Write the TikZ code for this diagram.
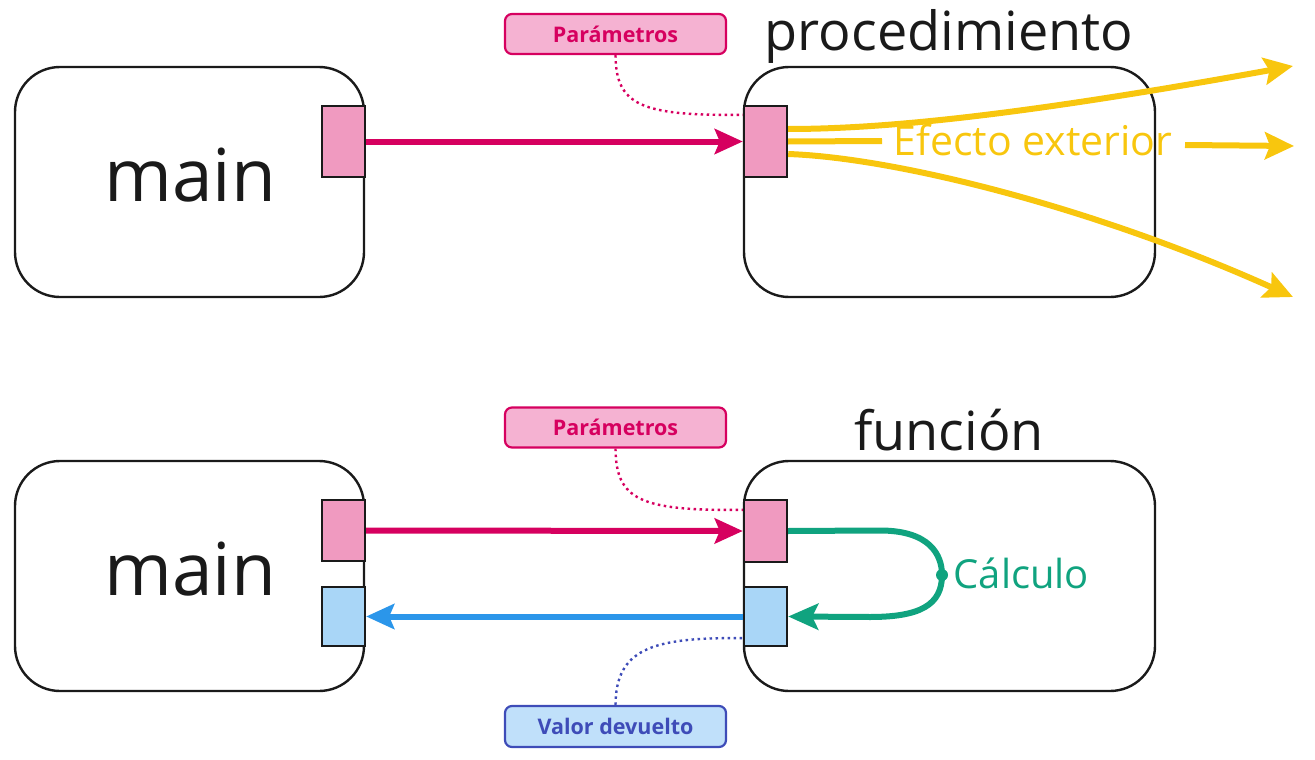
\documentclass[tikz,border=0pt]{standalone}
\usepackage{fontspec}
\setmainfont{Open Sans}
\usetikzlibrary{arrows.meta}
\definecolor{pinkarr}{HTML}{D6005F}
\definecolor{pinkport}{HTML}{F09AC0}
\definecolor{pinklab}{HTML}{F5B2D2}
\definecolor{yel}{HTML}{F8C60E}
\definecolor{bluearr}{HTML}{2B96EA}
\definecolor{blueport}{HTML}{A9D6F7}
\definecolor{bluelab}{HTML}{C0E0FA}
\definecolor{bluetxt}{HTML}{3E4CB8}
\definecolor{teal}{HTML}{10A37F}
\definecolor{ink}{HTML}{1A1A1A}
\tikzset{
  bigbox/.style={draw=ink, line width=2.4pt, rounded corners=45pt, minimum width=349pt, minimum height=230pt, inner sep=0pt},
  port/.style={draw=ink, line width=2.4pt, minimum width=43pt, inner sep=0pt},
  pinkport/.style={port, fill=pinkport},
  blueport/.style={port, fill=blueport},
  title/.style={font=\fontsize{54}{60}\selectfont, text=ink},
  mainlbl/.style={font=\fontsize{73}{80}\selectfont, text=ink},
  plab/.style={draw=pinkarr, fill=pinklab, text=pinkarr, line width=2.2pt, rounded corners=7pt, minimum width=221pt, minimum height=40pt, inner sep=0pt, font=\bfseries\fontsize{21.5}{24}\selectfont},
  blab/.style={draw=bluetxt, fill=bluelab, text=bluetxt, line width=2.2pt, rounded corners=7pt, minimum width=221pt, minimum height=41pt, inner sep=0pt, font=\bfseries\fontsize{21.5}{24}\selectfont},
  parr/.style={draw=pinkarr, line width=6pt, -{Stealth[length=28pt,width=25pt,inset=5pt]}},
  barr/.style={draw=bluearr, line width=6pt, -{Stealth[length=28pt,width=25pt,inset=5pt]}},
  yarr/.style={draw=yel, line width=6pt, -{Stealth[length=29pt,width=27pt,inset=5pt]}},
  yline/.style={draw=yel, line width=6pt},
  tarr/.style={draw=teal, line width=6pt, -{Stealth[length=30pt,width=26pt,inset=6pt]}},
  pdot/.style={draw=pinkarr, line width=2.4pt, dash pattern=on 2.5pt off 3.5pt},
  bdot/.style={draw=bluetxt, line width=2.4pt, dash pattern=on 2.5pt off 3.5pt},
}
\begin{document}
\begin{tikzpicture}[x=1pt,y=-1pt]
\useasboundingbox (0,0) rectangle (1315,760);
% ---------- top: procedimiento ----------
\node[bigbox] (m1) at (189.5,182) {};
\node[mainlbl] (mt1) at (190,175) {main};
\node[bigbox, minimum width=411pt] (p1) at (949.5,182) {};
\node[title] (t1) at (949,36) {procedimiento};
\node[pinkport, minimum height=71pt] (mp1) at (343.5,141.5) {};
\node[pinkport, minimum height=71pt] (pp1) at (765.5,141.5) {};
\node[plab] (l1) at (615.5,34) {Parámetros};
\draw[parr] (mp1.east) -- (pp1.west);
\draw[pdot] (l1.south) .. controls (616,105) and (640,116) .. ([yshift=-10pt]pp1.north west);
\coordinate (e1) at (1293,66);
\coordinate (e2a) at (882,141);
\coordinate (e2b) at (1185,145);
\coordinate (e2) at (1294,146);
\coordinate (e3) at (1293,297);
\draw[yarr] ([yshift=12.5pt]pp1.east) .. controls (900,129) and (1050,110) .. (e1);
\draw[yline] (pp1.east) -- (e2a);
\draw[yarr] (e2b) -- (e2);
\draw[yarr] ([yshift=-12.5pt]pp1.east) .. controls (900,158) and (1100,210) .. (e3);
\node[text=yel, font=\fontsize{41}{48}\selectfont] (ef) at (1033,140) {Efecto exterior};
% ---------- bottom: funcion ----------
\node[bigbox] (m2) at (189.5,576) {};
\node[mainlbl] (mt2) at (190,569) {main};
\node[bigbox, minimum width=411pt] (f2) at (949.5,576) {};
\node[title] (t2) at (949,430) {función};
\node[pinkport, minimum height=61pt] (mp2) at (343.5,530.5) {};
\node[blueport, minimum height=59pt] (mb2) at (343.5,616.5) {};
\node[pinkport, minimum height=62pt] (fp2) at (765.5,531) {};
\node[blueport, minimum height=59pt] (fb2) at (765.5,616.5) {};
\node[plab] (l2) at (615.5,427.5) {Parámetros};
\node[blab] (l3) at (615.5,726.5) {Valor devuelto};
\draw[parr] (mp2.east) -- (fp2.west);
\draw[barr] (fb2.west) -- (mb2.east);
\draw[pdot] (l2.south) .. controls (616,500) and (640,511) .. ([yshift=-11pt]fp2.north west);
\draw[bdot] (l3.north) .. controls (616,650) and (650,637) .. ([yshift=9pt]fb2.south west);
\coordinate (cdot) at (942,575);
\draw[teal, line width=6pt] (fp2.east) -- (880,530.5) .. controls (930,530.5) and (942,555) .. (cdot);
\draw[tarr] (cdot) .. controls (942,605) and (920,617) .. (870,617) -- (fb2.east);
\fill[teal] (cdot) circle (6pt);
\node[text=teal, font=\fontsize{40}{48}\selectfont, anchor=west] (calc) at (950,573) {Cálculo};
\end{tikzpicture}
\end{document}
